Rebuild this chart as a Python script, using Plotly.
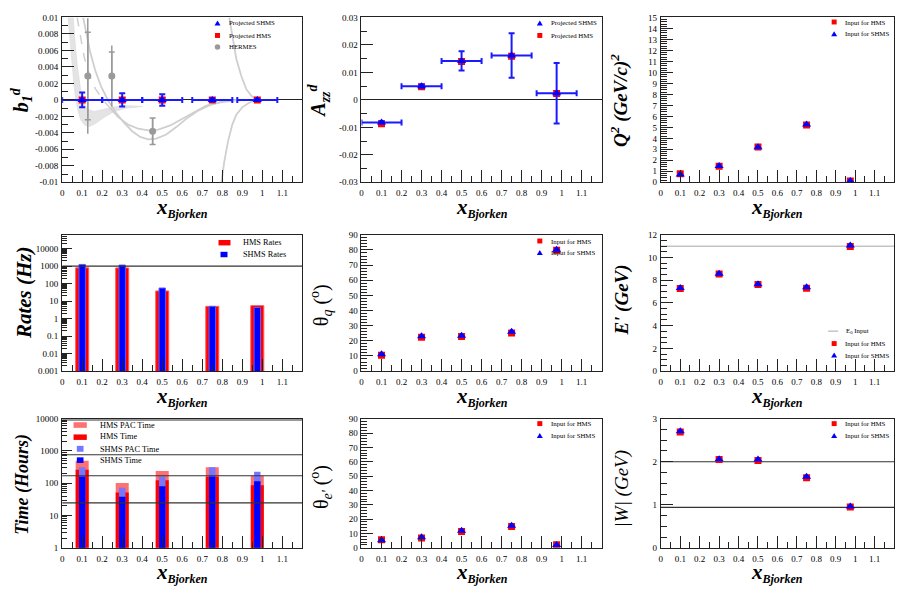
import numpy as np
import plotly.graph_objects as go

FONT = "Liberation Serif"

# ---------------- data ----------------
x_bj = [0.1, 0.3, 0.5, 0.75, 0.975]
x_err = [0.1, 0.1, 0.1, 0.1, 0.1]

# b1^d
b1_hms = [0.0, 0.0, 0.0, 0.0, 0.0]
b1_shms = [0.0, 0.0, 0.0, 0.0, 0.0]
b1_shms_err = [0.0009, 0.0008, 0.0007, 0.0002, 0.0001]
hermes_x = [0.128, 0.248, 0.452]
hermes_y = [0.0029, 0.0029, -0.0038]
hermes_stat = [0.0053, 0.0029, 0.0016]
hermes_tot = [0.0070, 0.0037, 0.0016]

# model curves
band_lo_x = [0.030, 0.040, 0.050, 0.060, 0.070, 0.080, 0.095, 0.115, 0.140, 0.170, 0.210, 0.260, 0.320, 0.400]
band_lo_y = [0.0100, 0.0068, 0.0040, 0.0016, -0.0002, -0.0014, -0.0025, -0.0031, -0.0032, -0.0028, -0.0021, -0.0014, -0.0010, -0.0008]
band_hi_x = [0.055, 0.065, 0.075, 0.085, 0.095, 0.110, 0.130, 0.160, 0.200, 0.250, 0.320, 0.400]
band_hi_y = [0.0100, 0.0068, 0.0042, 0.0022, 0.0007, -0.0005, -0.0012, -0.0014, -0.0012, -0.0009, -0.0007, -0.0008]
dash_x = [0.075, 0.09, 0.11, 0.135, 0.165, 0.20, 0.24]
dash_y = [0.0100, 0.0077, 0.0052, 0.0031, 0.0014, 0.0001, -0.0010]
curveB_x = [0.24, 0.28, 0.33, 0.38, 0.43, 0.48, 0.54, 0.60, 0.66, 0.72, 0.79, 0.86, 0.93]
curveB_y = [-0.0010, -0.0021, -0.0030, -0.0035, -0.0037, -0.0036, -0.0031, -0.0023, -0.0014, -0.0007, -0.0003, -0.0001, 0.0]
curveC_x = [0.105, 0.12, 0.14, 0.165, 0.195, 0.23, 0.27, 0.31, 0.35, 0.39, 0.43, 0.47, 0.52, 0.57, 0.62, 0.68, 0.74, 0.80, 0.87, 0.94]
curveC_y = [0.0100, 0.0080, 0.0058, 0.0036, 0.0016, -0.0001, -0.0016, -0.0028, -0.0038, -0.0045, -0.0048, -0.0047, -0.0042, -0.0033, -0.0023, -0.0013, -0.0006, -0.0002, 0.0, 0.0]
curveR1_x = [0.835, 0.85, 0.87, 0.895, 0.92, 0.945, 0.97, 1.0]
curveR1_y = [0.0100, 0.0078, 0.0050, 0.0029, 0.0013, 0.0005, 0.0001, -0.0001]
curveR2_x = [0.796, 0.81, 0.829, 0.85, 0.87, 0.90, 0.93, 0.96, 0.99]
curveR2_y = [-0.0100, -0.0075, -0.0050, -0.0030, -0.0018, -0.0009, -0.0004, -0.0001, 0.0]

# A_zz^d
azz_hms = [-0.0087, 0.0048, 0.0140, 0.0159, 0.0023]
azz_shms = [-0.0082, 0.0050, 0.0142, 0.0162, 0.0024]
azz_err = [0.0004, 0.0006, 0.0035, 0.0081, 0.0110]

# Q^2
q2_hms = [0.78, 1.46, 3.22, 5.22, 0.12]
q2_shms = [0.70, 1.48, 3.18, 5.25, 0.12]

# rates (Hz)
rate_hms = [800, 790, 38, 5.0, 5.5]
rate_shms = [1250, 1150, 56, 5.0, 4.3]
rate_limit = 1000

# theta_q
thq_hms = [10.4, 22.4, 22.8, 25.2, 79.8]
thq_shms = [11.2, 23.0, 23.4, 25.9, 80.2]

# E'
ep_hms = [7.28, 8.55, 7.62, 7.30, 10.98]
ep_shms = [7.32, 8.58, 7.65, 7.38, 11.05]
e0 = 11.0

# time (hours)
t_hms_pac = [500, 102, 238, 314, 171]
t_hms = [261, 52, 123, 160, 87]
t_shms_pac = [315, 72, 163, 315, 226]
t_shms = [163, 38, 81, 163, 115]
time_lines = [9100, 764, 171, 24.6]

# theta_e'
the_hms = [5.6, 6.9, 11.3, 14.8, 2.2]
the_shms = [5.2, 7.3, 11.8, 15.3, 1.9]

# W
w_hms = [2.69, 2.05, 2.03, 1.63, 0.95]
w_shms = [2.71, 2.06, 2.05, 1.65, 0.96]
w_lines = [2.0, 0.938]

x_tickvals = [0, 0.1, 0.2, 0.3, 0.4, 0.5, 0.6, 0.7, 0.8, 0.9, 1.0, 1.1]
x_ticktext = ["0", "0.1", "0.2", "0.3", "0.4", "0.5", "0.6", "0.7", "0.8", "0.9", "1", "1.1"]

# ---------------- layout helpers ----------------
W_PX, H_PX = 900, 600
def px(x):
    return x / W_PX
def py(y):
    return 1 - y / H_PX

cols = [(60.3, 301.0), (360.3, 601.0), (660.3, 894.0)]
rows = [(12.7, 180.3), (233.7, 372.3), (420.7, 552.0)]

RED = "#ff0000"
BLUE = "#0000ff"
EBLUE = "#1a1aff"
GRAY = "#9a9a9a"
LGRAY = "#cfcfcf"
AXC = "#222222"
MS_SQ = 7
MS_TR = 8

fig = go.Figure()
layout = {}
shapes = []
annots = []

def names(i):
    s = "" if i == 1 else str(i)
    return "xaxis" + s, "yaxis" + s, "x" + s, "y" + s

def lin_minor(a, b, step):
    n = int(round((b - a) / step))
    return [a + k * step for k in range(n + 1)]

def log_minor(n0, n1):
    return [k * 10.0 ** n for n in range(n0, n1 + 1) for k in range(2, 10)]

def fmt(v):
    s = ("%.4f" % v).rstrip("0").rstrip(".")
    return "0" if s in ("-0", "") else s

panels = [
    (0, 0, [-0.01, 0.01], False, [round(-0.01 + 0.002 * k, 4) for k in range(11)], lin_minor(-0.01, 0.01, 0.001)),
    (1, 0, [-0.03, 0.03], False, [round(-0.03 + 0.01 * k, 3) for k in range(7)], lin_minor(-0.03, 0.03, 0.005)),
    (2, 0, [0, 15], False, list(range(16)), lin_minor(0, 15, 0.2)),
    (0, 1, [-3, 4.79], True, [0.001, 0.01, 0.1, 1, 10, 100, 1000, 10000], log_minor(-3, 4)),
    (1, 1, [0, 90], False, list(range(0, 91, 10)), lin_minor(0, 90, 2)),
    (2, 1, [0, 12], False, list(range(0, 13, 2)), lin_minor(0, 12, 0.5)),
    (0, 2, [0, 4], True, [1, 10, 100, 1000, 10000], log_minor(0, 3)),
    (1, 2, [0, 90], False, list(range(0, 91, 10)), lin_minor(0, 90, 2)),
    (2, 2, [0, 3], False, [0, 1, 2, 3], lin_minor(0, 3, 0.25)),
]

tickfont = dict(family=FONT, size=9, color="black")
for i, (c, r, yr, islog, tv, mv) in enumerate(panels, start=1):
    xa, ya, xr, yrf = names(i)
    if islog:
        tt = [("%g" % v) for v in tv]
    else:
        tt = [fmt(v) for v in tv]
    layout[xa] = dict(
        domain=[px(cols[c][0]), px(cols[c][1])], range=[0, 1.2], anchor=yrf,
        showgrid=False, zeroline=False, showline=True, mirror=True,
        linecolor=AXC, linewidth=1, ticks="inside", ticklen=12, tickwidth=1,
        tickcolor=AXC, tickmode="array", tickvals=x_tickvals, ticktext=x_ticktext,
        tickfont=tickfont, ticklabelstandoff=2,
        minor=dict(ticks="inside", ticklen=6, tickwidth=1, tickcolor=AXC,
                   tickmode="array", tickvals=[0.05 + 0.1 * k for k in range(12)]),
    )
    layout[ya] = dict(
        domain=[py(rows[r][1]), py(rows[r][0])], range=yr, anchor=xr,
        type="log" if islog else "linear",
        showgrid=False, zeroline=(i in (1, 2)), zerolinecolor=AXC, zerolinewidth=1,
        showline=True, mirror=True, linecolor=AXC, linewidth=1,
        ticks="inside", ticklen=12 if not islog else 10, tickwidth=1, tickcolor=AXC,
        tickmode="array", tickvals=tv, ticktext=tt, tickfont=tickfont,
        ticklabelstandoff=1,
        minor=dict(ticks="inside", ticklen=6 if not islog else 5, tickwidth=1,
                   tickcolor=AXC, tickmode="array", tickvals=mv),
    )

def ax(i):
    _, _, xr, yrf = names(i)
    return dict(xaxis=xr, yaxis=yrf)

def hline(i, yv, color, width=1.0):
    fig.add_trace(go.Scatter(x=[0, 1.2], y=[yv, yv], mode="lines",
                             line=dict(color=color, width=width), hoverinfo="skip",
                             showlegend=False, **ax(i)))

def pts(i, xv, yv, symbol, color, size=7, **kw):
    fig.add_trace(go.Scatter(x=xv, y=yv, mode="markers",
                             marker=dict(symbol=symbol, color=color, size=size, line=dict(width=0)),
                             showlegend=False, **ax(i), **kw))

# ---- panel 1: b1 ----
fig.add_trace(go.Scatter(x=band_lo_x + band_hi_x[::-1], y=band_lo_y + band_hi_y[::-1],
                         mode="lines", fill="toself", fillcolor="#e4e4e4",
                         line=dict(width=0.8, color="#dddddd"), showlegend=False, **ax(1)))
fig.add_trace(go.Scatter(x=dash_x, y=dash_y, mode="lines",
                         line=dict(color=LGRAY, width=1.5, dash="dash"), showlegend=False, **ax(1)))
for cx, cy in [(curveB_x, curveB_y), (curveC_x, curveC_y), (curveR1_x, curveR1_y), (curveR2_x, curveR2_y)]:
    fig.add_trace(go.Scatter(x=cx, y=cy, mode="lines",
                             line=dict(color=LGRAY, width=1.8), showlegend=False, **ax(1)))
fig.add_trace(go.Scatter(x=hermes_x, y=hermes_y, mode="markers",
                         marker=dict(size=0.1, color=GRAY),
                         error_y=dict(type="data", array=hermes_tot, color=GRAY, thickness=1.5, width=0),
                         showlegend=False, **ax(1)))
fig.add_trace(go.Scatter(x=hermes_x, y=hermes_y, mode="markers",
                         marker=dict(symbol="circle", size=7, color=GRAY),
                         error_y=dict(type="data", array=hermes_stat, color=GRAY, thickness=1.5, width=3),
                         showlegend=False, **ax(1)))
pts(1, x_bj, b1_hms, "square", RED, MS_SQ)
fig.add_trace(go.Scatter(x=x_bj, y=b1_shms, mode="markers",
                         marker=dict(symbol="triangle-up", size=MS_TR, color=BLUE),
                         error_y=dict(type="data", array=b1_shms_err, color=EBLUE, thickness=2, width=3),
                         error_x=dict(type="data", array=x_err, color=EBLUE, thickness=2, width=3),
                         showlegend=False, **ax(1)))

# ---- panel 2: Azz ----
pts(2, x_bj, azz_hms, "square", RED, MS_SQ)
fig.add_trace(go.Scatter(x=x_bj, y=azz_shms, mode="markers",
                         marker=dict(symbol="triangle-up", size=MS_TR, color=BLUE),
                         error_y=dict(type="data", array=azz_err, color=EBLUE, thickness=2, width=3),
                         error_x=dict(type="data", array=x_err, color=EBLUE, thickness=2, width=3),
                         showlegend=False, **ax(2)))

# ---- panel 3: Q2 ----
pts(3, x_bj, q2_hms, "square", RED, MS_SQ)
pts(3, x_bj, q2_shms, "triangle-up", BLUE, MS_TR)

# ---- panel 4: rates ----
fig.add_trace(go.Bar(x=x_bj, y=rate_hms, width=0.065, marker=dict(color=RED, line=dict(color="#ff5a5a", width=1)),
                     showlegend=False, **ax(4)))
fig.add_trace(go.Bar(x=x_bj, y=rate_shms, width=0.032, marker=dict(color=BLUE, line=dict(color="#5a5aff", width=1)),
                     showlegend=False, **ax(4)))
hline(4, rate_limit, "#333333", 1.2)

# ---- panel 5: theta_q ----
pts(5, x_bj, thq_hms, "square", RED, MS_SQ)
pts(5, x_bj, thq_shms, "triangle-up", BLUE, MS_TR)

# ---- panel 6: E' ----
hline(6, e0, "#c4c4c4", 1.5)
pts(6, x_bj, ep_hms, "square", RED, MS_SQ)
pts(6, x_bj, ep_shms, "triangle-up", BLUE, MS_TR)

# ---- panel 7: time ----
fig.add_trace(go.Bar(x=x_bj, y=t_hms_pac, width=0.065, marker=dict(color="#ff7070", line=dict(width=0)), showlegend=False, **ax(7)))
fig.add_trace(go.Bar(x=x_bj, y=t_hms, width=0.065, marker=dict(color=RED, line=dict(width=0)), showlegend=False, **ax(7)))
fig.add_trace(go.Bar(x=x_bj, y=t_shms_pac, width=0.032, marker=dict(color="#7676ff", line=dict(width=0)), showlegend=False, **ax(7)))
fig.add_trace(go.Bar(x=x_bj, y=t_shms, width=0.032, marker=dict(color=BLUE, line=dict(width=0)), showlegend=False, **ax(7)))
for v in time_lines:
    hline(7, v, "#333333", 1.2)

# ---- panel 8: theta_e ----
pts(8, x_bj, the_hms, "square", RED, MS_SQ)
pts(8, x_bj, the_shms, "triangle-up", BLUE, MS_TR)

# ---- panel 9: W ----
for v in w_lines:
    hline(9, v, "#333333", 1.2)
pts(9, x_bj, w_hms, "square", RED, MS_SQ)
pts(9, x_bj, w_shms, "triangle-up", BLUE, MS_TR)

# ---------------- legends (drawn in paper space) ----------------
def leg_square(xc, yc, color, s=5):
    shapes.append(dict(type="rect", xref="paper", yref="paper",
                       x0=px(xc - s / 2), x1=px(xc + s / 2), y0=py(yc + s / 2), y1=py(yc - s / 2),
                       fillcolor=color, line=dict(width=0)))

def leg_rect(x0, x1, y0, y1, color):
    shapes.append(dict(type="rect", xref="paper", yref="paper",
                       x0=px(x0), x1=px(x1), y0=py(y1), y1=py(y0),
                       fillcolor=color, line=dict(width=0)))

def leg_tri(xc, yc, color, s=6):
    h = s * 0.85
    path = "M %f,%f L %f,%f L %f,%f Z" % (px(xc - s / 2), py(yc + h / 2), px(xc + s / 2), py(yc + h / 2), px(xc), py(yc - h / 2))
    shapes.append(dict(type="path", xref="paper", yref="paper", path=path,
                       fillcolor=color, line=dict(width=0)))

def leg_circle(xc, yc, color, s=5.5):
    shapes.append(dict(type="circle", xref="paper", yref="paper",
                       x0=px(xc - s / 2), x1=px(xc + s / 2), y0=py(yc + s / 2), y1=py(yc - s / 2),
                       fillcolor=color, line=dict(width=0)))

def leg_line(x0, x1, yc, color):
    shapes.append(dict(type="line", xref="paper", yref="paper",
                       x0=px(x0), x1=px(x1), y0=py(yc), y1=py(yc), line=dict(color=color, width=1.5)))

def leg_text(xt, yt, text, size=6.8):
    annots.append(dict(x=px(xt), y=py(yt), xref="paper", yref="paper", text=text, showarrow=False,
                       xanchor="left", yanchor="middle", font=dict(family=FONT, size=size, color="black")))

# panel 1
leg_tri(216, 18.3, BLUE); leg_text(225, 18.3, "Projected SHMS")
leg_square(216, 31, RED); leg_text(225, 31, "Projected HMS")
leg_circle(216, 42.7, GRAY); leg_text(225, 42.7, "HERMES")
# panel 2
leg_tri(539, 18.3, BLUE); leg_text(548, 18.3, "Projected SHMS")
leg_square(539, 31, RED); leg_text(548, 31, "Projected HMS")
# panel 3
leg_square(834, 17.3, RED); leg_text(843, 17.3, "Input for HMS")
leg_tri(834, 29.3, BLUE); leg_text(843, 29.3, "Input for SHMS")
# panel 4
leg_rect(217, 229, 239, 244.5, RED); leg_text(240, 241.7, "HMS Rates", 8.3)
leg_rect(219, 226, 251, 256.5, BLUE); leg_text(240, 253.7, "SHMS Rates", 8.3)
# panel 5
leg_square(539, 240, RED); leg_text(548, 240, "Input for HMS")
leg_tri(539, 251.7, BLUE); leg_text(548, 251.7, "Input for SHMS")
# panel 6
leg_line(828, 838, 331.7, "#c4c4c4"); leg_text(844, 331.7, "E<sub>0</sub> Input")
leg_square(834, 344.3, RED); leg_text(843, 344.3, "Input for HMS")
leg_tri(834, 356, BLUE); leg_text(843, 356, "Input for SHMS")
# panel 7
leg_rect(71.7, 85, 424.3, 430, "#ff7070"); leg_text(96.5, 427.3, "HMS PAC Time", 8.3)
leg_rect(71.7, 85, 436.7, 442.3, RED); leg_text(96.5, 439.3, "HMS Time", 8.3)
leg_rect(75, 81.7, 448.3, 454.3, "#7676ff"); leg_text(96.5, 451.7, "SHMS PAC Time", 8.3)
leg_rect(75, 81.7, 460, 465.7, BLUE); leg_text(96.5, 463.3, "SHMS Time", 8.3)
# panel 8
leg_square(539, 425.7, RED); leg_text(548, 425.7, "Input for HMS")
leg_tri(539, 437.7, BLUE); leg_text(548, 437.7, "Input for SHMS")
# panel 9
leg_square(834, 425.7, RED); leg_text(843, 425.7, "Input for HMS")
leg_tri(834, 437.7, BLUE); leg_text(843, 437.7, "Input for SHMS")

# ---------------- axis titles ----------------
xtitle = ('<b><i>x</i></b><sub><span style="font-size:12px"><b><i>Bjorken</i></b></span></sub>')
for c in range(3):
    for r in range(3):
        xc = (cols[c][0] + cols[c][1]) / 2
        annots.append(dict(x=px(xc), y=py(rows[r][1] + 26), xref="paper", yref="paper",
                           text=xtitle, showarrow=False, xanchor="center", yanchor="middle",
                           font=dict(family=FONT, size=21, color="black")))

ytitles = [
    (20, 96, '<b><i>b</i></b><sub><b><i>1</i></b></sub><sup><b><i>d</i></b></sup>', 20),
    (318, 97, '<b><i>A</i></b><sub><b><i>zz</i></b></sub><sup><b><i>d</i></b></sup>', 20),
    (619, 97, '<b><i>Q<sup>2</sup> (GeV/c)<sup>2</sup></i></b>', 19),
    (22, 292, '<b><i>Rates (Hz)</i></b>', 21),
    (320, 305, '\u03b8<sub><i>q</i></sub> (<sup>o</sup>)', 20),
    (621, 300, "<b><i>E' (GeV)</i></b>", 19),
    (21, 487, '<b><i>Time (Hours)</i></b>', 18),
    (320, 490, "\u03b8<sub><i>e'</i></sub> (<sup>o</sup>)", 20),
    (621, 492, '<i>|W| (GeV)</i>', 19),
]
for xt, yt, txt, sz in ytitles:
    annots.append(dict(x=px(xt), y=py(yt), xref="paper", yref="paper", text=txt, showarrow=False,
                       textangle=-90, xanchor="center", yanchor="middle",
                       font=dict(family=FONT, size=sz, color="black")))

fig.update_layout(
    width=W_PX, height=H_PX, margin=dict(l=0, r=0, t=0, b=0),
    paper_bgcolor="white", plot_bgcolor="white",
    barmode="overlay", showlegend=False,
    font=dict(family=FONT, color="black"),
    shapes=shapes, annotations=annots,
    **layout,
)

fig.write_html("out.html")
